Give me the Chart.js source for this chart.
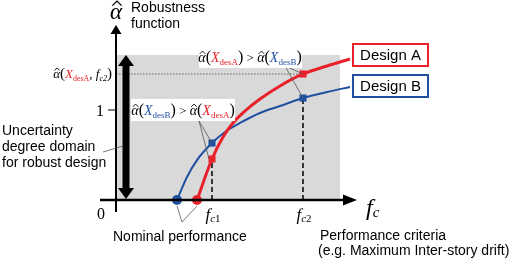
<!DOCTYPE html>
<html>
<head>
<meta charset="utf-8">
<script src="https://cdn.jsdelivr.net/npm/chart.js@4.4.0/dist/chart.umd.min.js"></script>
<style>
  html, body { margin: 0; padding: 0; background: #fff; }
</style>
</head>
<body>
<canvas id="robust" width="512" height="260"></canvas>
<script>
// robustness curves (x = performance criterion f_c, y = robustness alpha-hat)
const designAx = [8.1, 9.6, 10.7, 11.7, 12.9, 14.4, 16.4, 18.7, 21.1, 23.4];
const designAy = [0, 0.456, 0.70, 0.856, 0.989, 1.122, 1.267, 1.40, 1.489, 1.567];
const designBx = [6.1, 7.1, 8.1, 9.6, 10.9, 12.4, 14.4, 16.4, 18.7, 21.1, 23.4];
const designBy = [0, 0.256, 0.444, 0.633, 0.756, 0.856, 0.967, 1.044, 1.133, 1.2, 1.256];

const fcValues = [9.6, 18.7];          // f_c1, f_c2
const fcNames = ['c1', 'c2'];
const alphaAatFc = [0.456, 1.40];
const alphaBatFc = [0.633, 1.133];
const nominalA = 8.1, nominalB = 6.1;
const domainTop = 1.611, domainRight = 22.4;
const yTicks = [0, 1];

const RED = '#e8212a', BLUE = '#1f4f9f', GRAY = '#d9d9d9';
const SERIF = '"Liberation Serif", "DejaVu Serif", serif';
const SANS = '"Liberation Sans", Arial, sans-serif';
const it = s => `italic ${s}px ${SERIF}`;
const rm = s => `${s}px ${SERIF}`;

const pts = (xs, ys) => xs.map((x, i) => ({ x, y: ys[i] }));

function drawRuns(ctx, x, y, parts, align) {
  let w = 0;
  parts.forEach(p => { ctx.font = p.f; p.w = ctx.measureText(p.t).width; w += p.w; });
  let cx = align === 'center' ? x - w / 2 : align === 'right' ? x - w : x;
  parts.forEach(p => {
    ctx.font = p.f;
    ctx.fillStyle = p.c || '#000';
    ctx.fillText(p.t, cx, y + (p.dy || 0));
    if (p.hat) {
      // circumflex over alpha
      const s = p.hat, mid = cx + p.w * 0.58, h = s * 0.2;
      ctx.save();
      ctx.strokeStyle = '#000';
      ctx.lineWidth = s > 16 ? 1.3 : 0.9;
      ctx.beginPath();
      ctx.moveTo(mid - h, y - s * 0.58);
      ctx.lineTo(mid, y - s * 0.78);
      ctx.lineTo(mid + h, y - s * 0.58);
      ctx.stroke();
      ctx.restore();
    }
    cx += p.w;
  });
  return w;
}

function alphaOf(name, color, s) {
  return [
    { t: '\u03b1', f: it(s), hat: s },
    { t: '(', f: rm(s + 2) },
    { t: 'X', f: it(s), c: color },
    { t: 'des' + name, f: rm(Math.round(s * 0.62)), c: color, dy: 3 },
    { t: ')', f: rm(s + 2) }
  ];
}

function arrowHead(ctx, x, y, dir, len, half) {
  ctx.beginPath();
  if (dir === 'up') { ctx.moveTo(x, y); ctx.lineTo(x - half, y + len); ctx.lineTo(x + half, y + len); }
  if (dir === 'down') { ctx.moveTo(x, y); ctx.lineTo(x - half, y - len); ctx.lineTo(x + half, y - len); }
  if (dir === 'right') { ctx.moveTo(x, y); ctx.lineTo(x - len, y - half); ctx.lineTo(x - len, y + half); }
  ctx.closePath();
  ctx.fill();
}

function line(ctx, x1, y1, x2, y2) {
  ctx.beginPath(); ctx.moveTo(x1, y1); ctx.lineTo(x2, y2); ctx.stroke();
}

const decorations = {
  id: 'decorations',
  afterDatasetsDraw(chart) {
    const ctx = chart.ctx;
    const xs = chart.scales.x, ys = chart.scales.y;
    const X = v => xs.getPixelForValue(v), Y = v => ys.getPixelForValue(v);
    ctx.save();
    ctx.fillStyle = '#000';
    ctx.strokeStyle = '#000';

    // axes with arrows
    ctx.lineWidth = 2;
    line(ctx, X(0), chart.chartArea.bottom, X(0), Y(1.944) + 8);
    arrowHead(ctx, X(0), Y(1.944), 'up', 9, 5.5);
    ctx.lineWidth = 2.5;
    line(ctx, chart.chartArea.left, Y(0), X(24.1) - 12, Y(0));
    arrowHead(ctx, X(24.1), Y(0), 'right', 14, 5.5);

    // tick at 1
    ctx.lineWidth = 1;
    line(ctx, X(0) - 8, Y(1), X(0), Y(1));

    // thick double arrow: uncertainty domain
    const ax = X(1.0);
    ctx.fillRect(ax - 3.5, Y(domainTop) + 10, 7, Y(0) - Y(domainTop) - 20);
    arrowHead(ctx, ax, Y(domainTop), 'up', 11, 8);
    arrowHead(ctx, ax, Y(0) - 1, 'down', 11, 8);

    // thin leader lines
    ctx.strokeStyle = '#555';
    ctx.lineWidth = 0.8;
    line(ctx, 103, 152, ax - 3, 146);
    line(ctx, X(nominalB), Y(0) + 6, 182, 222);
    line(ctx, X(nominalA), Y(0) + 6, 182, 222);
    line(ctx, 199, 121, X(fcValues[0]), Y(alphaBatFc[0]));
    line(ctx, 199, 121, X(fcValues[0]) - 3, Y(alphaAatFc[0]));
    line(ctx, 285, 66, X(fcValues[1]), Y(alphaAatFc[1]));
    line(ctx, 285, 66, X(fcValues[1]), Y(alphaBatFc[1]));

    // annotation boxes
    ctx.fillStyle = '#fff';
    ctx.fillRect(199, 47, 103, 21);
    ctx.fillRect(131, 99, 104, 22);
    ctx.textBaseline = 'alphabetic';
    drawRuns(ctx, 250, 62, [...alphaOf('A', RED, 14), { t: ' > ', f: rm(13) }, ...alphaOf('B', BLUE, 14)], 'center');
    drawRuns(ctx, 183, 115, [...alphaOf('B', BLUE, 14), { t: ' > ', f: rm(13) }, ...alphaOf('A', RED, 14)], 'center');

    // left label alpha(X_desA, f_c2)
    drawRuns(ctx, 112, 78, [
      { t: '\u03b1', f: it(13), hat: 13 },
      { t: '(', f: rm(15) },
      { t: 'X', f: it(13), c: RED },
      { t: 'desA', f: rm(8), c: RED, dy: 3 },
      { t: ', ', f: rm(13) },
      { t: 'f', f: it(13) },
      { t: 'c2', f: it(8), dy: 3 },
      { t: ')', f: rm(15) }
    ], 'right');

    // tick labels
    ctx.fillStyle = '#000';
    ctx.textAlign = 'center';
    ctx.font = rm(16);
    ctx.fillText(String(yTicks[1]), X(0) - 16, Y(yTicks[1]) + 6);
    ctx.fillText(String(yTicks[0]), X(0) - 15, Y(0) + 19);
    ctx.textAlign = 'left';
    fcValues.forEach((v, i) => {
      drawRuns(ctx, X(v) + 1, Y(0) + 20, [
        { t: 'f', f: it(17) },
        { t: fcNames[i][0], f: it(11), dy: 2 },
        { t: fcNames[i].slice(1), f: rm(11), dy: 2 }
      ], 'center');
    });
    drawRuns(ctx, 366, 215, [{ t: 'f', f: it(24) }, { t: 'c', f: it(15), dy: 2 }], 'left');

    // axis title and notes
    drawRuns(ctx, 116, 19, [{ t: '\u03b1', f: it(23), hat: 23 }], 'center');
    ctx.fillStyle = '#000';
    ctx.font = `14px ${SANS}`;
    ctx.textAlign = 'left';
    ctx.fillText('Robustness', 131, 12);
    ctx.fillText('function', 131, 28);
    ctx.fillText('Uncertainty', 2, 135);
    ctx.fillText('degree domain', 2, 151);
    ctx.fillText('for robust design', 2, 167);
    ctx.fillText('Nominal performance', 113, 241);
    ctx.fillText('Performance criteria', 320, 240);
    ctx.fillText('(e.g. Maximum Inter-story drift)', 318, 255);

    // legend boxes
    ctx.lineWidth = 2;
    ctx.strokeStyle = RED;
    ctx.strokeRect(353, 44, 75, 22);
    ctx.strokeStyle = BLUE;
    ctx.strokeRect(353, 75, 75, 22);
    ctx.fillStyle = '#000';
    ctx.font = `15px ${SANS}`;
    ctx.textAlign = 'center';
    ctx.fillText(chart.data.datasets[2].label, 390.5, 60);
    ctx.fillText(chart.data.datasets[3].label, 390.5, 91);
    ctx.restore();
  }
};

new Chart(document.getElementById('robust'), {
  type: 'scatter',
  data: {
    datasets: [
      {
        label: 'squares A',
        data: pts(fcValues, alphaAatFc),
        pointStyle: 'rect', pointRadius: 5, backgroundColor: RED, borderWidth: 0, order: 0
      },
      {
        label: 'squares B',
        data: pts(fcValues, alphaBatFc),
        pointStyle: 'rect', pointRadius: 5, backgroundColor: BLUE, borderWidth: 0, order: 0
      },
      {
        label: 'Design A',
        data: pts(designAx, designAy),
        showLine: true, borderColor: RED, borderWidth: 3, cubicInterpolationMode: 'monotone',
        pointRadius: designAx.map(x => x === nominalA ? 5 : 0),
        pointBackgroundColor: RED, pointBorderWidth: 0, order: 1
      },
      {
        label: 'Design B',
        data: pts(designBx, designBy),
        showLine: true, borderColor: BLUE, borderWidth: 2, cubicInterpolationMode: 'monotone',
        pointRadius: designBx.map(x => x === nominalB ? 5 : 0),
        pointBackgroundColor: BLUE, pointBorderWidth: 0, order: 2
      },
      ...fcValues.map((v, i) => ({
        label: 'fc line',
        data: [{ x: v, y: 0 }, { x: v, y: Math.min(alphaAatFc[i], alphaBatFc[i]) }],
        showLine: true, borderColor: '#000', borderWidth: 1.5, borderDash: [5, 3],
        pointRadius: 0, order: 3
      })),
      {
        label: 'alpha fc2',
        data: [{ x: 0, y: alphaAatFc[1] }, { x: fcValues[1], y: alphaAatFc[1] }],
        showLine: true, borderColor: '#666', borderWidth: 1, borderDash: [1.5, 1.5],
        pointRadius: 0, order: 3
      },
      {
        label: 'domain',
        data: [{ x: 0, y: domainTop }, { x: domainRight, y: domainTop }],
        showLine: true, borderWidth: 0, borderColor: GRAY, backgroundColor: GRAY,
        fill: 'origin', pointRadius: 0, order: 4
      }
    ]
  },
  options: {
    responsive: false,
    animation: false,
    devicePixelRatio: 1,
    layout: { padding: { left: 100, right: 154, top: 18, bottom: 48 } },
    plugins: { legend: { display: false }, tooltip: { enabled: false } },
    scales: {
      x: { type: 'linear', min: -1.6, max: 24.2, display: false },
      y: { type: 'linear', min: -0.133, max: 2.022, display: false }
    }
  },
  plugins: [decorations]
});
</script>
</body>
</html>
